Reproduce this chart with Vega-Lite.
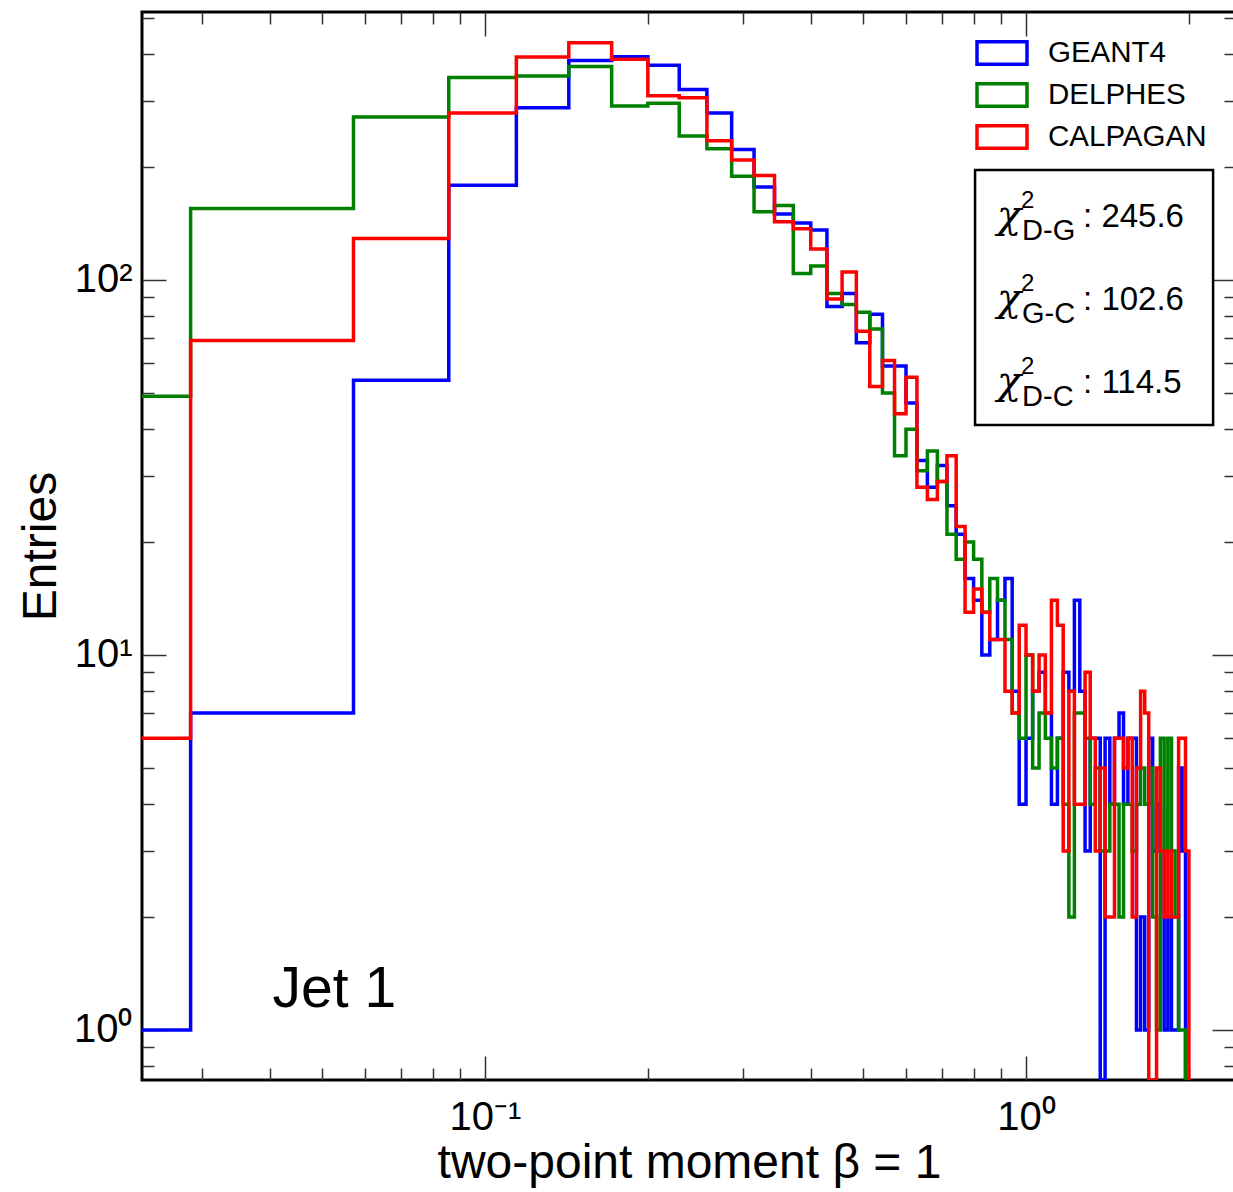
{
  "$schema": "https://vega.github.io/schema/vega-lite/v6.json",
  "width": 1094,
  "height": 1068,
  "autosize": {"type": "none"},
  "padding": {"left": 142, "top": 12, "right": 0, "bottom": 112},
  "background": "white",
  "config": {
    "view": {"stroke": "black", "strokeWidth": 3},
    "axis": {"grid": false, "domain": false, "tickColor": "#333", "tickWidth": 1.5, "labelFont": "Liberation Sans", "labelFontSize": 40, "labelColor": "black", "titleFont": "Liberation Sans", "titleFontSize": 48, "titleFontWeight": "normal", "titleColor": "black", "labelFlush": false, "labelOverlap": false},
    "legend": {"labelFont": "Liberation Sans", "labelFontSize": 29.5, "labelColor": "black"}
  },
  "data": {"values": [
    {"bin_low": 0, "GEANT4": 1, "DELPHES": 49, "CALPAGAN": 6},
    {"bin_low": 0.028571, "GEANT4": 7, "DELPHES": 155, "CALPAGAN": 69},
    {"bin_low": 0.057143, "GEANT4": 54, "DELPHES": 272, "CALPAGAN": 129},
    {"bin_low": 0.085714, "GEANT4": 179, "DELPHES": 347, "CALPAGAN": 279},
    {"bin_low": 0.114286, "GEANT4": 288, "DELPHES": 350, "CALPAGAN": 393},
    {"bin_low": 0.142857, "GEANT4": 385, "DELPHES": 371, "CALPAGAN": 429},
    {"bin_low": 0.171429, "GEANT4": 394, "DELPHES": 291, "CALPAGAN": 388},
    {"bin_low": 0.2, "GEANT4": 374, "DELPHES": 296, "CALPAGAN": 310},
    {"bin_low": 0.228571, "GEANT4": 322, "DELPHES": 242, "CALPAGAN": 306},
    {"bin_low": 0.257143, "GEANT4": 279, "DELPHES": 224, "CALPAGAN": 235},
    {"bin_low": 0.285714, "GEANT4": 223, "DELPHES": 189, "CALPAGAN": 209},
    {"bin_low": 0.314286, "GEANT4": 177, "DELPHES": 152, "CALPAGAN": 190},
    {"bin_low": 0.342857, "GEANT4": 150, "DELPHES": 158, "CALPAGAN": 143},
    {"bin_low": 0.371429, "GEANT4": 142, "DELPHES": 104, "CALPAGAN": 137},
    {"bin_low": 0.4, "GEANT4": 136, "DELPHES": 109, "CALPAGAN": 121},
    {"bin_low": 0.428571, "GEANT4": 85, "DELPHES": 92, "CALPAGAN": 89},
    {"bin_low": 0.457143, "GEANT4": 92, "DELPHES": 86, "CALPAGAN": 105},
    {"bin_low": 0.485714, "GEANT4": 68, "DELPHES": 82, "CALPAGAN": 73},
    {"bin_low": 0.514286, "GEANT4": 81, "DELPHES": 74, "CALPAGAN": 52},
    {"bin_low": 0.542857, "GEANT4": 59, "DELPHES": 50, "CALPAGAN": 61},
    {"bin_low": 0.571429, "GEANT4": 59, "DELPHES": 34, "CALPAGAN": 44},
    {"bin_low": 0.6, "GEANT4": 47, "DELPHES": 40, "CALPAGAN": 55},
    {"bin_low": 0.628571, "GEANT4": 33, "DELPHES": 31, "CALPAGAN": 28},
    {"bin_low": 0.657143, "GEANT4": 28, "DELPHES": 35, "CALPAGAN": 26},
    {"bin_low": 0.685714, "GEANT4": 32, "DELPHES": 29, "CALPAGAN": 29},
    {"bin_low": 0.714286, "GEANT4": 25, "DELPHES": 21, "CALPAGAN": 34},
    {"bin_low": 0.742857, "GEANT4": 21, "DELPHES": 18, "CALPAGAN": 22},
    {"bin_low": 0.771429, "GEANT4": 16, "DELPHES": 20, "CALPAGAN": 13},
    {"bin_low": 0.8, "GEANT4": 14, "DELPHES": 18, "CALPAGAN": 15},
    {"bin_low": 0.828571, "GEANT4": 10, "DELPHES": 13, "CALPAGAN": 13},
    {"bin_low": 0.857143, "GEANT4": 11, "DELPHES": 16, "CALPAGAN": 11},
    {"bin_low": 0.885714, "GEANT4": 14, "DELPHES": 14, "CALPAGAN": 11},
    {"bin_low": 0.914286, "GEANT4": 16, "DELPHES": 11, "CALPAGAN": 8},
    {"bin_low": 0.942857, "GEANT4": 8, "DELPHES": 7, "CALPAGAN": 7},
    {"bin_low": 0.971429, "GEANT4": 4, "DELPHES": 6, "CALPAGAN": 12},
    {"bin_low": 1.0, "GEANT4": 6, "DELPHES": 10, "CALPAGAN": 10},
    {"bin_low": 1.028571, "GEANT4": 8, "DELPHES": 5, "CALPAGAN": 8},
    {"bin_low": 1.057143, "GEANT4": 9, "DELPHES": 7, "CALPAGAN": 10},
    {"bin_low": 1.085714, "GEANT4": 7, "DELPHES": 6, "CALPAGAN": 7},
    {"bin_low": 1.114286, "GEANT4": 4, "DELPHES": 5, "CALPAGAN": 14},
    {"bin_low": 1.142857, "GEANT4": 6, "DELPHES": 6, "CALPAGAN": 12},
    {"bin_low": 1.171429, "GEANT4": 9, "DELPHES": 4, "CALPAGAN": 3},
    {"bin_low": 1.2, "GEANT4": 8, "DELPHES": 2, "CALPAGAN": 8},
    {"bin_low": 1.228571, "GEANT4": 14, "DELPHES": 7, "CALPAGAN": 4},
    {"bin_low": 1.257143, "GEANT4": 8, "DELPHES": 7, "CALPAGAN": 4},
    {"bin_low": 1.285714, "GEANT4": 3, "DELPHES": 6, "CALPAGAN": 9},
    {"bin_low": 1.314286, "GEANT4": 6, "DELPHES": 4, "CALPAGAN": 6},
    {"bin_low": 1.342857, "GEANT4": 6, "DELPHES": 5, "CALPAGAN": 3},
    {"bin_low": 1.371429, "GEANT4": 0, "DELPHES": 3, "CALPAGAN": 5},
    {"bin_low": 1.4, "GEANT4": 6, "DELPHES": 3, "CALPAGAN": 2},
    {"bin_low": 1.428571, "GEANT4": 4, "DELPHES": 4, "CALPAGAN": 2},
    {"bin_low": 1.457143, "GEANT4": 6, "DELPHES": 4, "CALPAGAN": 6},
    {"bin_low": 1.485714, "GEANT4": 7, "DELPHES": 2, "CALPAGAN": 6},
    {"bin_low": 1.514286, "GEANT4": 4, "DELPHES": 4, "CALPAGAN": 5},
    {"bin_low": 1.542857, "GEANT4": 6, "DELPHES": 4, "CALPAGAN": 6},
    {"bin_low": 1.571429, "GEANT4": 6, "DELPHES": 3, "CALPAGAN": 2},
    {"bin_low": 1.6, "GEANT4": 1, "DELPHES": 4, "CALPAGAN": 5},
    {"bin_low": 1.628571, "GEANT4": 2, "DELPHES": 5, "CALPAGAN": 8},
    {"bin_low": 1.657143, "GEANT4": 1, "DELPHES": 4, "CALPAGAN": 7},
    {"bin_low": 1.685714, "GEANT4": 6, "DELPHES": 5, "CALPAGAN": 0},
    {"bin_low": 1.714286, "GEANT4": 3, "DELPHES": 2, "CALPAGAN": 0},
    {"bin_low": 1.742857, "GEANT4": 4, "DELPHES": 1, "CALPAGAN": 5},
    {"bin_low": 1.771429, "GEANT4": 3, "DELPHES": 6, "CALPAGAN": 3},
    {"bin_low": 1.8, "GEANT4": 1, "DELPHES": 3, "CALPAGAN": 2},
    {"bin_low": 1.828571, "GEANT4": 2, "DELPHES": 6, "CALPAGAN": 3},
    {"bin_low": 1.857143, "GEANT4": 1, "DELPHES": 3, "CALPAGAN": 2},
    {"bin_low": 1.885714, "GEANT4": 1, "DELPHES": 2, "CALPAGAN": 2},
    {"bin_low": 1.914286, "GEANT4": 5, "DELPHES": 1, "CALPAGAN": 6},
    {"bin_low": 1.942857, "GEANT4": 3, "DELPHES": 1, "CALPAGAN": 6},
    {"bin_low": 1.971429, "GEANT4": 0, "DELPHES": 0, "CALPAGAN": 3},
    {"bin_low": 2.0, "GEANT4": 0, "DELPHES": 0, "CALPAGAN": 0}
  ]},
  "transform": [{"fold": ["GEANT4", "DELPHES", "CALPAGAN"], "as": ["sample", "entries"]}],
  "resolve": {"axis": {"x": "independent", "y": "independent"}},
  "layer": [
    {
      "mark": {"type": "line", "interpolate": "step-after", "strokeWidth": 3.5, "clip": true},
      "encoding": {
        "x": {"field": "bin_low", "type": "quantitative",
          "scale": {"type": "log", "domain": [0.02323, 2.444], "clamp": true, "nice": false},
          "axis": {"orient": "bottom", "values": [0.1, 1], "tickSize": -24, "labelPadding": 41,
            "labelExpr": "datum.value >= 1 ? '10⁰' : '10⁻¹'",
            "title": "two-point moment β = 1", "titlePadding": 2}},
        "y": {"field": "entries", "type": "quantitative",
          "scale": {"type": "log", "domain": [0.7356, 518.4], "clamp": true, "nice": false},
          "axis": {"orient": "left", "values": [1, 10, 100], "tickSize": -24, "labelPadding": 34,
            "labelExpr": "datum.value >= 100 ? '10²' : datum.value >= 10 ? '10¹' : '10⁰'",
            "title": "Entries", "titlePadding": 8}},
        "color": {"field": "sample", "type": "nominal",
          "scale": {"domain": ["GEANT4", "DELPHES", "CALPAGAN"], "range": ["#0000ff", "#008000", "#ff0000"]},
          "legend": {"title": null, "orient": "none", "legendX": 833, "legendY": 20,
            "symbolType": "M-1,-0.45H1V0.45H-1Z", "symbolSize": 2500, "symbolStrokeWidth": 3.5,
            "symbolFillColor": "transparent", "labelOffset": 19, "clipHeight": 42, "rowPadding": 0, "padding": 0}}
      }
    },
    {
      "mark": {"type": "point", "opacity": 0},
      "encoding": {
        "x": {"field": "bin_low", "type": "quantitative",
          "axis": {"orient": "bottom", "values": [0.03, 0.04, 0.05, 0.06, 0.07, 0.08, 0.09, 0.2, 0.3, 0.4, 0.5, 0.6, 0.7, 0.8, 0.9, 2], "tickSize": -12, "labels": false, "title": null}},
        "y": {"field": "entries", "type": "quantitative",
          "axis": {"orient": "left", "values": [0.8, 0.9, 2, 3, 4, 5, 6, 7, 8, 9, 20, 30, 40, 50, 60, 70, 80, 90, 200, 300, 400, 500], "tickSize": -12, "labels": false, "title": null}}
      }
    },
    {
      "mark": {"type": "point", "opacity": 0},
      "encoding": {
        "x": {"field": "bin_low", "type": "quantitative",
          "axis": {"orient": "top", "values": [0.1, 1], "tickSize": -24, "labels": false, "title": null}},
        "y": {"field": "entries", "type": "quantitative",
          "axis": {"orient": "right", "values": [1, 10, 100], "tickSize": -24, "labels": false, "title": null}}
      }
    },
    {
      "mark": {"type": "point", "opacity": 0},
      "encoding": {
        "x": {"field": "bin_low", "type": "quantitative",
          "axis": {"orient": "top", "values": [0.03, 0.04, 0.05, 0.06, 0.07, 0.08, 0.09, 0.2, 0.3, 0.4, 0.5, 0.6, 0.7, 0.8, 0.9, 2], "tickSize": -12, "labels": false, "title": null}},
        "y": {"field": "entries", "type": "quantitative",
          "axis": {"orient": "right", "values": [0.8, 0.9, 2, 3, 4, 5, 6, 7, 8, 9, 20, 30, 40, 50, 60, 70, 80, 90, 200, 300, 400, 500], "tickSize": -12, "labels": false, "title": null}}
      }
    },
    {
      "data": {"values": [{}]},
      "mark": {"type": "rect", "fill": "white", "stroke": "black", "strokeWidth": 2.5},
      "encoding": {
        "x": {"datum": 0.805, "type": "quantitative", "axis": null},
        "x2": {"datum": 2.217},
        "y": {"datum": 196.6, "type": "quantitative", "axis": null},
        "y2": {"datum": 41.05}
      }
    },
    {
      "data": {"values": [{}]},
      "mark": {"type": "text", "text": ["χ", "χ", "χ"], "lineHeight": 83, "align": "left", "baseline": "alphabetic", "dx": 22, "dy": 58, "fontSize": 40, "fontStyle": "italic", "font": "DejaVu Serif", "color": "black"},
      "encoding": {
        "x": {"datum": 0.805, "type": "quantitative", "axis": null},
        "y": {"datum": 196.6, "type": "quantitative", "axis": null}
      }
    },
    {
      "data": {"values": [{}]},
      "mark": {"type": "text", "text": ["2", "2", "2"], "lineHeight": 83, "align": "left", "baseline": "alphabetic", "dx": 46, "dy": 38, "fontSize": 24, "font": "Liberation Sans", "color": "black"},
      "encoding": {
        "x": {"datum": 0.805, "type": "quantitative", "axis": null},
        "y": {"datum": 196.6, "type": "quantitative", "axis": null}
      }
    },
    {
      "data": {"values": [{}]},
      "mark": {"type": "text", "text": ["D-G", "G-C", "D-C"], "lineHeight": 83, "align": "left", "baseline": "alphabetic", "dx": 47, "dy": 70, "fontSize": 29, "font": "Liberation Sans", "color": "black"},
      "encoding": {
        "x": {"datum": 0.805, "type": "quantitative", "axis": null},
        "y": {"datum": 196.6, "type": "quantitative", "axis": null}
      }
    },
    {
      "data": {"values": [{}]},
      "mark": {"type": "text", "text": [": 245.6", ": 102.6", ": 114.5"], "lineHeight": 83, "align": "left", "baseline": "alphabetic", "dx": 108, "dy": 57, "fontSize": 33, "font": "Liberation Sans", "color": "black"},
      "encoding": {
        "x": {"datum": 0.805, "type": "quantitative", "axis": null},
        "y": {"datum": 196.6, "type": "quantitative", "axis": null}
      }
    },
    {
      "data": {"values": [{}]},
      "mark": {"type": "text", "text": "Jet 1", "align": "left", "baseline": "alphabetic", "fontSize": 57, "font": "Liberation Sans", "color": "black"},
      "encoding": {
        "x": {"datum": 0.0405, "type": "quantitative", "axis": null},
        "y": {"datum": 1.15, "type": "quantitative", "axis": null}
      }
    }
  ]
}
